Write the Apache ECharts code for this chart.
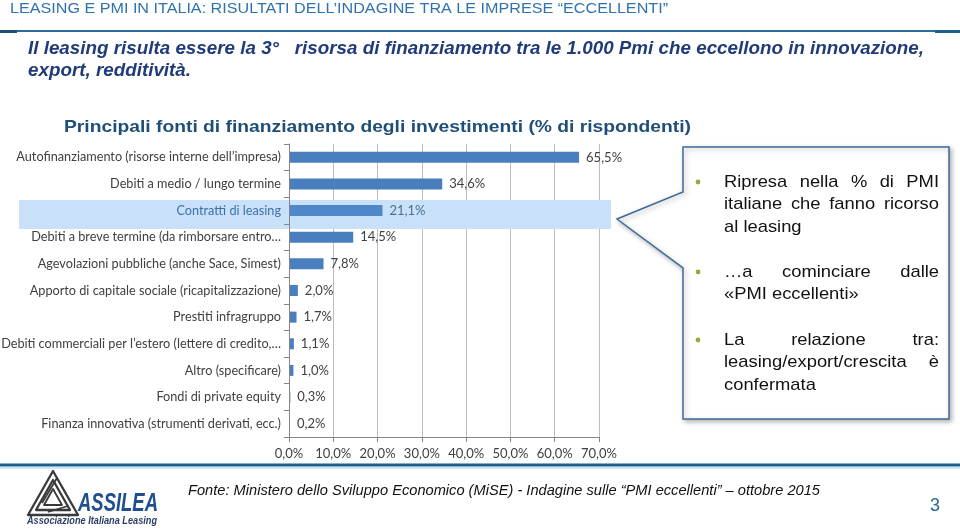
<!DOCTYPE html>
<html><head><meta charset="utf-8">
<script src="https://cdn.jsdelivr.net/npm/echarts@6/dist/echarts.min.js"></script>
<style>html,body{margin:0;padding:0;background:#fff}#c{width:960px;height:530px}</style>
</head><body><div id="c"></div>
<script>
// ---- data ----
const headerText = 'LEASING E PMI IN ITALIA: RISULTATI DELL’INDAGINE TRA LE IMPRESE “ECCELLENTI”';
const subtitleLines = [
  'Il leasing risulta essere la 3°   risorsa di finanziamento tra le 1.000 Pmi che eccellono in innovazione,',
  'export, redditività.'
];
const chartTitle = 'Principali fonti di finanziamento degli investimenti (% di rispondenti)';
const categories = [
  'Autofinanziamento (risorse interne dell’impresa)',
  'Debiti a medio / lungo termine',
  'Contratti di leasing',
  'Debiti a breve termine (da rimborsare entro…',
  'Agevolazioni pubbliche (anche Sace, Simest)',
  'Apporto di capitale sociale (ricapitalizzazione)',
  'Prestiti infragruppo',
  'Debiti commerciali per l’estero (lettere di credito,…',
  'Altro (specificare)',
  'Fondi di private equity',
  'Finanza innovativa (strumenti derivati, ecc.)'
];
const values = [65.5, 34.6, 21.1, 14.5, 7.8, 2.0, 1.7, 1.1, 1.0, 0.3, 0.2];
const highlightCategory = 'Contratti di leasing';
const axisMin = 0, axisMax = 70, axisStep = 10;
const calloutGroups = [
  ['Ripresa nella % di PMI', 'italiane che fanno ricorso', 'al leasing'],
  ['…a cominciare dalle', '«PMI eccellenti»'],
  ['La relazione tra:', 'leasing/export/crescita è', 'confermata']
];
const sourceText = 'Fonte: Ministero dello Sviluppo Economico (MiSE) - Indagine sulle “PMI eccellenti” – ottobre 2015';
const pageNumber = '3';
const logoName = 'ASSILEA';
const logoTagline = 'Associazione Italiana Leasing';

// ---- helpers ----
const ctx = document.createElement('canvas').getContext('2d');
function measure(t, font) { ctx.font = font; return ctx.measureText(t).width; }
const ARIAL = "'Liberation Sans', Arial, sans-serif";
const NARROW = "'Liberation Sans Narrow', 'Arial Narrow', 'Liberation Sans', sans-serif";
function fontStr(o) { return `${o.style || 'normal'} ${o.weight || 'normal'} ${o.size}px ${o.family || ARIAL}`; }
function textEl(t, o) {
  const font = fontStr(o);
  const w = measure(t, font);
  const sx = o.width ? o.width / w : (o.scale || 1);
  return {
    type: 'text', x: o.x, y: o.y, scaleX: sx, originX: 0, originY: 0, z: o.z || 20, silent: true,
    style: { text: t, x: 0, y: 0, font: font, fill: o.color || '#000',
      textAlign: 'left', textVerticalAlign: 'middle', align: 'left', verticalAlign: 'middle' }
  };
}

const g = [];
// header
g.push(textEl(headerText, { x: 10, y: 9, size: 14, family: NARROW, width: 658, color: '#2f72ad' }));
g.push({ type: 'line', z: 5, shape: { x1: 0, y1: 31, x2: 960, y2: 31 }, style: { stroke: '#2e6c9c', lineWidth: 2 } });
g.push({ type: 'rect', z: 6, shape: { x: 0, y: 30, width: 17, height: 3 }, style: { fill: '#1d4f7a' } });
g.push({ type: 'rect', z: 6, shape: { x: 935, y: 30, width: 25, height: 3 }, style: { fill: '#1d5f8e' } });
// subtitle
const subFont = { style: 'italic', weight: 'bold', size: 18.5, family: NARROW, color: '#1f3b78' };
const subW = measure(subtitleLines[0], fontStr(subFont));
const subScale = 896 / subW;
g.push(textEl(subtitleLines[0], Object.assign({ x: 28, y: 49, scale: subScale }, subFont)));
g.push(textEl(subtitleLines[1], Object.assign({ x: 28, y: 71, scale: subScale }, subFont)));
// chart title
g.push(textEl(chartTitle, { x: 64, y: 127, size: 16.5, weight: 'bold', width: 627, color: '#1f4e79' }));
// highlight band
g.push({ type: 'rect', z: 1, silent: true, shape: { x: 19, y: 200, width: 592, height: 29 }, style: { fill: '#c8e1f8' } });
// callout box
g.push({ type: 'polygon', z: 10, silent: true,
  shape: { points: [[683, 147], [949, 147], [949, 419], [683, 419], [683, 268], [617, 219], [683, 192]] },
  style: { fill: '#fff', stroke: '#3d6a99', lineWidth: 1.5, shadowBlur: 5, shadowColor: 'rgba(0,0,0,0.3)', shadowOffsetX: 2, shadowOffsetY: 2 } });
const cScale = 1.08, cOpt = { size: 17, color: '#111' };
const cFont = fontStr(cOpt);
const cLeft = 724, cRight = 939, groupY = [182, 272, 340], lineStep = 22.7;
calloutGroups.forEach((lines, gi) => {
  g.push({ type: 'circle', z: 20, silent: true, shape: { cx: 698, cy: groupY[gi], r: 2.4 }, style: { fill: '#8eac3f' } });
  lines.forEach((ln, li) => {
    const y = groupY[gi] + li * lineStep;
    const justify = li < lines.length - 1;
    if (!justify) { g.push(textEl(ln, Object.assign({ x: cLeft, y: y, scale: cScale }, cOpt))); return; }
    const words = ln.split(' ');
    const ws = words.map(w => measure(w, cFont) * cScale);
    const gap = (cRight - cLeft - ws.reduce((a, b) => a + b, 0)) / (words.length - 1);
    let x = cLeft;
    words.forEach((w, wi) => { g.push(textEl(w, Object.assign({ x: x, y: y, scale: cScale }, cOpt))); x += ws[wi] + gap; });
  });
});
// footer
g.push({ type: 'line', z: 5, shape: { x1: 0, y1: 465, x2: 960, y2: 465 }, style: { stroke: '#1d5f8e', lineWidth: 3 } });
g.push({ type: 'line', z: 5, shape: { x1: 0, y1: 468, x2: 960, y2: 468 }, style: { stroke: '#d3e8f6', lineWidth: 2 } });
g.push(textEl(sourceText, { x: 188, y: 491, size: 14, style: 'italic', width: 632, color: '#111' }));
g.push(textEl(pageNumber, { x: 930, y: 506, size: 19, width: 10, color: '#2a6496' }));
// logo
const tri = (k) => [[53, 471 + k * 1.8], [78 - k * 1.6, 515 - k], [28 + k * 1.6, 515 - k]];
[0, 5, 10].forEach((k, i) => g.push({ type: 'polygon', z: 20, silent: true, shape: { points: tri(k) },
  style: { fill: 'none', stroke: '#3a3a3a', lineWidth: i === 2 ? 1.8 : 2.3, lineJoin: 'round' } }));
g.push({ type: 'line', z: 20, shape: { x1: 42, y1: 503, x2: 57, y2: 478 }, style: { stroke: '#3a3a3a', lineWidth: 1.8 } });
g.push({ type: 'line', z: 20, shape: { x1: 48, y1: 512, x2: 68, y2: 506 }, style: { stroke: '#3a3a3a', lineWidth: 1.8 } });
g.push(textEl(logoName, { x: 78, y: 504, size: 26, weight: 'bold', style: 'italic', family: NARROW, width: 80, color: '#1f4f8f' }));
g.push(textEl(logoTagline, { x: 27, y: 521, size: 10, weight: 'bold', style: 'italic', family: NARROW, width: 130, color: '#2b3f66' }));

// ---- chart ----
const fmt = v => v.toFixed(1).replace('.', ',') + '%';
const chart = echarts.init(document.getElementById('c'), null, { renderer: 'canvas' });
chart.setOption({
  animation: false,
  backgroundColor: '#fff',
  grid: { left: 289, right: 361, top: 144, bottom: 93, containLabel: false, outerBoundsMode: 'none' },
  xAxis: {
    type: 'value', min: axisMin, max: axisMax, interval: axisStep, z: 0,
    axisLine: { show: true, lineStyle: { color: '#868686', width: 1 } },
    axisTick: { show: true, length: 5, lineStyle: { color: '#868686' } },
    splitLine: { show: true, lineStyle: { color: '#bcbcbc', width: 1 } },
    axisLabel: { formatter: fmt, margin: 10, fontFamily: 'Lato', fontSize: 13, color: '#404040' }
  },
  yAxis: {
    type: 'category', data: categories, inverse: true, z: 3,
    axisLine: { show: true, lineStyle: { color: '#868686' } },
    axisTick: { show: true, length: 5, alignWithLabel: false, lineStyle: { color: '#868686' } },
    splitLine: { show: false },
    axisLabel: { margin: 8, fontFamily: 'Lato', fontSize: 12.7,
      color: (v) => v === highlightCategory ? '#3d70a8' : '#404040' }
  },
  series: [{
    type: 'bar', z: 2, barWidth: 11,
    data: values.map((v, i) => categories[i] === highlightCategory
      ? { value: v, itemStyle: { color: '#4f87cb' }, label: { color: '#4a6f96' } } : v),
    itemStyle: { color: '#4a7ebe' },
    label: { show: true, position: 'right', distance: 7, formatter: p => fmt(p.value),
      fontFamily: 'Lato', fontSize: 13, color: '#404040' }
  }],
  graphic: { elements: g }
});
</script></body></html>
